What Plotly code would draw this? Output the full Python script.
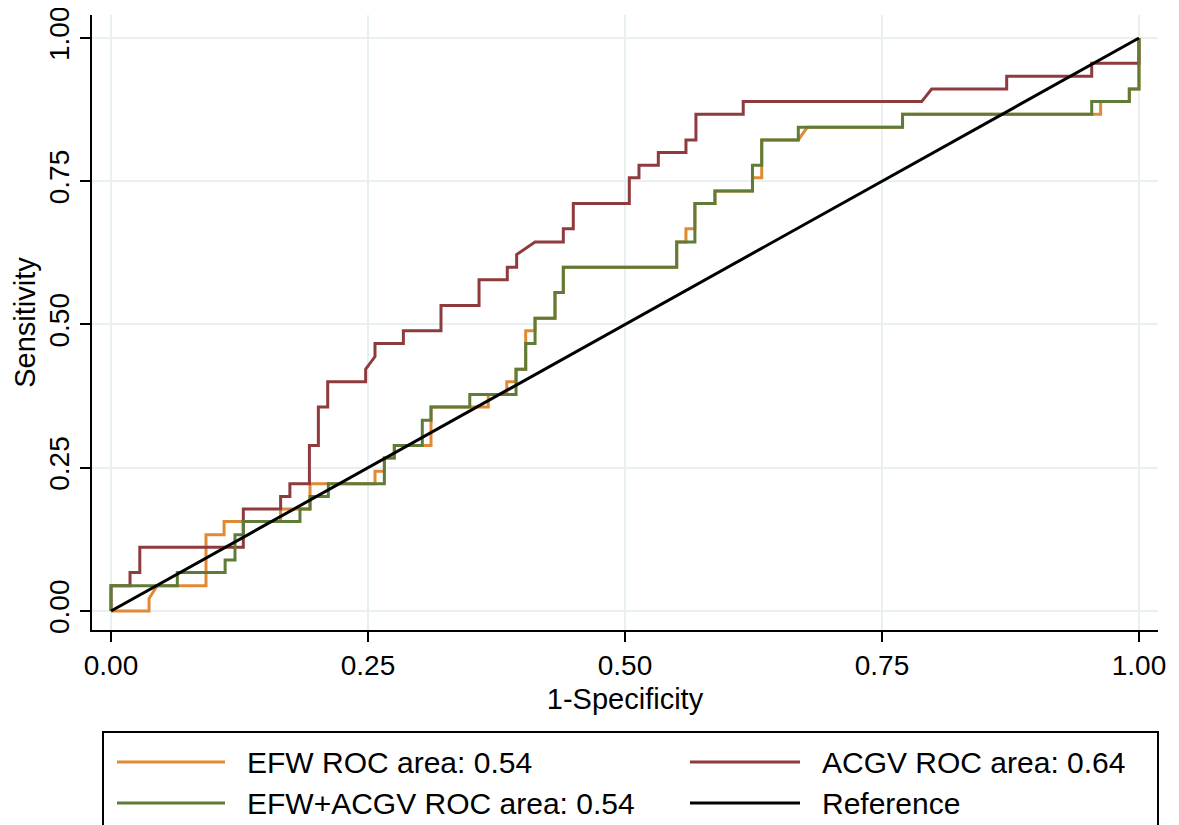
import plotly.graph_objects as go

# ---------------- data ----------------
efw_fpr = [0, 0.037, 0.037, 0.045, 0.0924, 0.0924, 0.110, 0.110, 0.165, 0.165,
           0.1936, 0.1936, 0.2568, 0.2568, 0.2659, 0.2659, 0.2756, 0.2756, 0.3113, 0.3113,
           0.367, 0.367, 0.385, 0.385, 0.394, 0.394, 0.4034, 0.4034, 0.4125, 0.4125,
           0.4319, 0.4319, 0.44, 0.44, 0.5503, 0.5503, 0.5593, 0.5593, 0.568, 0.568,
           0.5875, 0.5875, 0.624, 0.624, 0.633, 0.633, 0.6686, 0.6773, 0.770, 0.770,
           0.9627, 0.9627, 0.9906, 0.9906, 1.0, 1.0]
efw_tpr = [0, 0, 0.022, 0.044, 0.044, 0.133, 0.133, 0.156, 0.156, 0.178,
           0.178, 0.222, 0.222, 0.244, 0.244, 0.267, 0.267, 0.289, 0.289, 0.356,
           0.356, 0.378, 0.378, 0.400, 0.400, 0.422, 0.422, 0.489, 0.489, 0.511,
           0.511, 0.556, 0.556, 0.600, 0.600, 0.644, 0.644, 0.667, 0.667, 0.711,
           0.711, 0.733, 0.733, 0.756, 0.756, 0.822, 0.822, 0.844, 0.844, 0.867,
           0.867, 0.889, 0.889, 0.911, 0.911, 1.0]

acgv_fpr = [0, 0, 0.0185, 0.0185, 0.028, 0.028, 0.1287, 0.1287, 0.165, 0.165,
            0.174, 0.174, 0.193, 0.193, 0.2017, 0.2017, 0.2108, 0.2108, 0.2477, 0.2477,
            0.2568, 0.2568, 0.2844, 0.2844, 0.321, 0.321, 0.358, 0.358, 0.3855, 0.3855,
            0.3946, 0.3946, 0.4125, 0.44, 0.44, 0.4497, 0.4497, 0.5042, 0.5042, 0.5136,
            0.5136, 0.5324, 0.5324, 0.5593, 0.5593, 0.569, 0.569, 0.615, 0.615, 0.7886,
            0.7983, 0.8713, 0.8713, 0.954, 0.954, 1.0, 1.0]
acgv_tpr = [0, 0.044, 0.044, 0.067, 0.067, 0.111, 0.111, 0.178, 0.178, 0.200,
            0.200, 0.222, 0.222, 0.289, 0.289, 0.356, 0.356, 0.400, 0.400, 0.422,
            0.444, 0.467, 0.467, 0.489, 0.489, 0.533, 0.533, 0.578, 0.578, 0.600,
            0.600, 0.622, 0.644, 0.644, 0.667, 0.667, 0.711, 0.711, 0.756, 0.756,
            0.778, 0.778, 0.800, 0.800, 0.822, 0.822, 0.867, 0.867, 0.889, 0.889,
            0.911, 0.911, 0.933, 0.933, 0.956, 0.956, 1.0]

comb_fpr = [0, 0, 0.0645, 0.0645, 0.111, 0.111, 0.1206, 0.1206, 0.1287, 0.1287,
            0.1838, 0.1838, 0.1936, 0.1936, 0.2114, 0.2114, 0.2659, 0.2659, 0.2756, 0.2756,
            0.3028, 0.3028, 0.3113, 0.3113, 0.349, 0.349, 0.394, 0.394, 0.4034, 0.4034,
            0.4125, 0.4125, 0.4319, 0.4319, 0.44, 0.44, 0.5503, 0.5503, 0.568, 0.568,
            0.5875, 0.5875, 0.624, 0.624, 0.633, 0.633, 0.6686, 0.6686, 0.770, 0.770,
            0.954, 0.954, 0.9906, 0.9906, 1.0, 1.0]
comb_tpr = [0, 0.044, 0.044, 0.067, 0.067, 0.089, 0.089, 0.133, 0.133, 0.156,
            0.156, 0.178, 0.178, 0.200, 0.200, 0.222, 0.222, 0.267, 0.267, 0.289,
            0.289, 0.333, 0.333, 0.356, 0.356, 0.378, 0.378, 0.422, 0.422, 0.467,
            0.467, 0.511, 0.511, 0.556, 0.556, 0.600, 0.600, 0.644, 0.644, 0.711,
            0.711, 0.733, 0.733, 0.778, 0.778, 0.822, 0.822, 0.844, 0.844, 0.867,
            0.867, 0.889, 0.889, 0.911, 0.911, 1.0]

ref_x = [0, 1]
ref_y = [0, 1]

tick_vals = [0, 0.25, 0.5, 0.75, 1.0]
tick_text = ["0.00", "0.25", "0.50", "0.75", "1.00"]

legend_labels = ["EFW ROC area: 0.54", "ACGV ROC area: 0.64",
                 "EFW+ACGV ROC area: 0.54", "Reference"]

# ---------------- styling ----------------
C_EFW = "#E08A34"
C_ACGV = "#8E3B3E"
C_COMB = "#5F7B38"
C_REF = "#000000"
FONT = "Liberation Sans"

fig = go.Figure()
fig.add_trace(go.Scatter(x=efw_fpr, y=efw_tpr, mode="lines", name=legend_labels[0],
                         line=dict(color=C_EFW, width=3)))
fig.add_trace(go.Scatter(x=acgv_fpr, y=acgv_tpr, mode="lines", name=legend_labels[1],
                         line=dict(color=C_ACGV, width=3)))
fig.add_trace(go.Scatter(x=comb_fpr, y=comb_tpr, mode="lines", name=legend_labels[2],
                         line=dict(color=C_COMB, width=3)))
fig.add_trace(go.Scatter(x=ref_x, y=ref_y, mode="lines", name=legend_labels[3],
                         line=dict(color=C_REF, width=3)))

# the page body has an 8px default margin: work in page pixels and subtract it
OFF = 8
PAGE_W, PAGE_H = 1179, 825
W, H = PAGE_W - OFF, PAGE_H - OFF
plot_left, plot_right, plot_top, plot_bottom = 92, 1158, 15, 630  # page pixels
L = plot_left - OFF
T = plot_top - OFF
R = W - (plot_right - OFF)
B = H - (plot_bottom - OFF)
pw, ph = plot_right - plot_left, plot_bottom - plot_top


def px_x(p):
    return (p - plot_left) / pw


def px_y(p):
    return (plot_bottom - p) / ph


axis_common = dict(
    showline=True, linecolor="black", linewidth=1.6,
    ticks="outside", ticklen=10, tickwidth=1.6, tickcolor="black",
    showgrid=True, gridcolor="#E8F0F2", gridwidth=2,
    zeroline=False, mirror=False,
    tickvals=tick_vals, ticktext=tick_text,
    ticklabeloverflow="allow",
    tickfont=dict(family=FONT, size=28, color="black"),
)

fig.update_layout(
    width=W, height=H,
    margin=dict(l=L, r=R, t=T, b=B, autoexpand=False),
    paper_bgcolor="white", plot_bgcolor="white",
    showlegend=False,
    font=dict(family=FONT, color="black"),
    xaxis=dict(range=[-0.0185, 1.0185],
               title=dict(text="1-Specificity", font=dict(family=FONT, size=29), standoff=8),
               **axis_common),
    yaxis=dict(range=[-0.0332, 1.0401], tickangle=-90,
               title=dict(text="Sensitivity", font=dict(family=FONT, size=29), standoff=0),
               **axis_common),
)

# ---------------- legend box drawn manually ----------------
shapes = [dict(type="rect", xref="paper", yref="paper",
               x0=px_x(103), x1=px_x(1158), y0=px_y(840), y1=px_y(732),
               line=dict(color="black", width=2), fillcolor="rgba(0,0,0,0)")]
rows = [762, 803]
cols = [(117, 225, 245), (690, 800, 820)]
items = [(C_EFW, 0, 0), (C_ACGV, 0, 1), (C_COMB, 1, 0), (C_REF, 1, 1)]
annotations = []
for (color, r, c), label in zip(items, legend_labels):
    x0, x1, xt = cols[c]
    y = px_y(rows[r])
    shapes.append(dict(type="line", xref="paper", yref="paper",
                       x0=px_x(x0), x1=px_x(x1), y0=y, y1=y,
                       line=dict(color=color, width=3)))
    annotations.append(dict(xref="paper", yref="paper", x=px_x(xt), y=y,
                            text=label, showarrow=False, xanchor="left", yanchor="middle",
                            font=dict(family=FONT, size=30, color="black")))

fig.update_layout(shapes=shapes, annotations=annotations)

fig.write_html("out.html")
